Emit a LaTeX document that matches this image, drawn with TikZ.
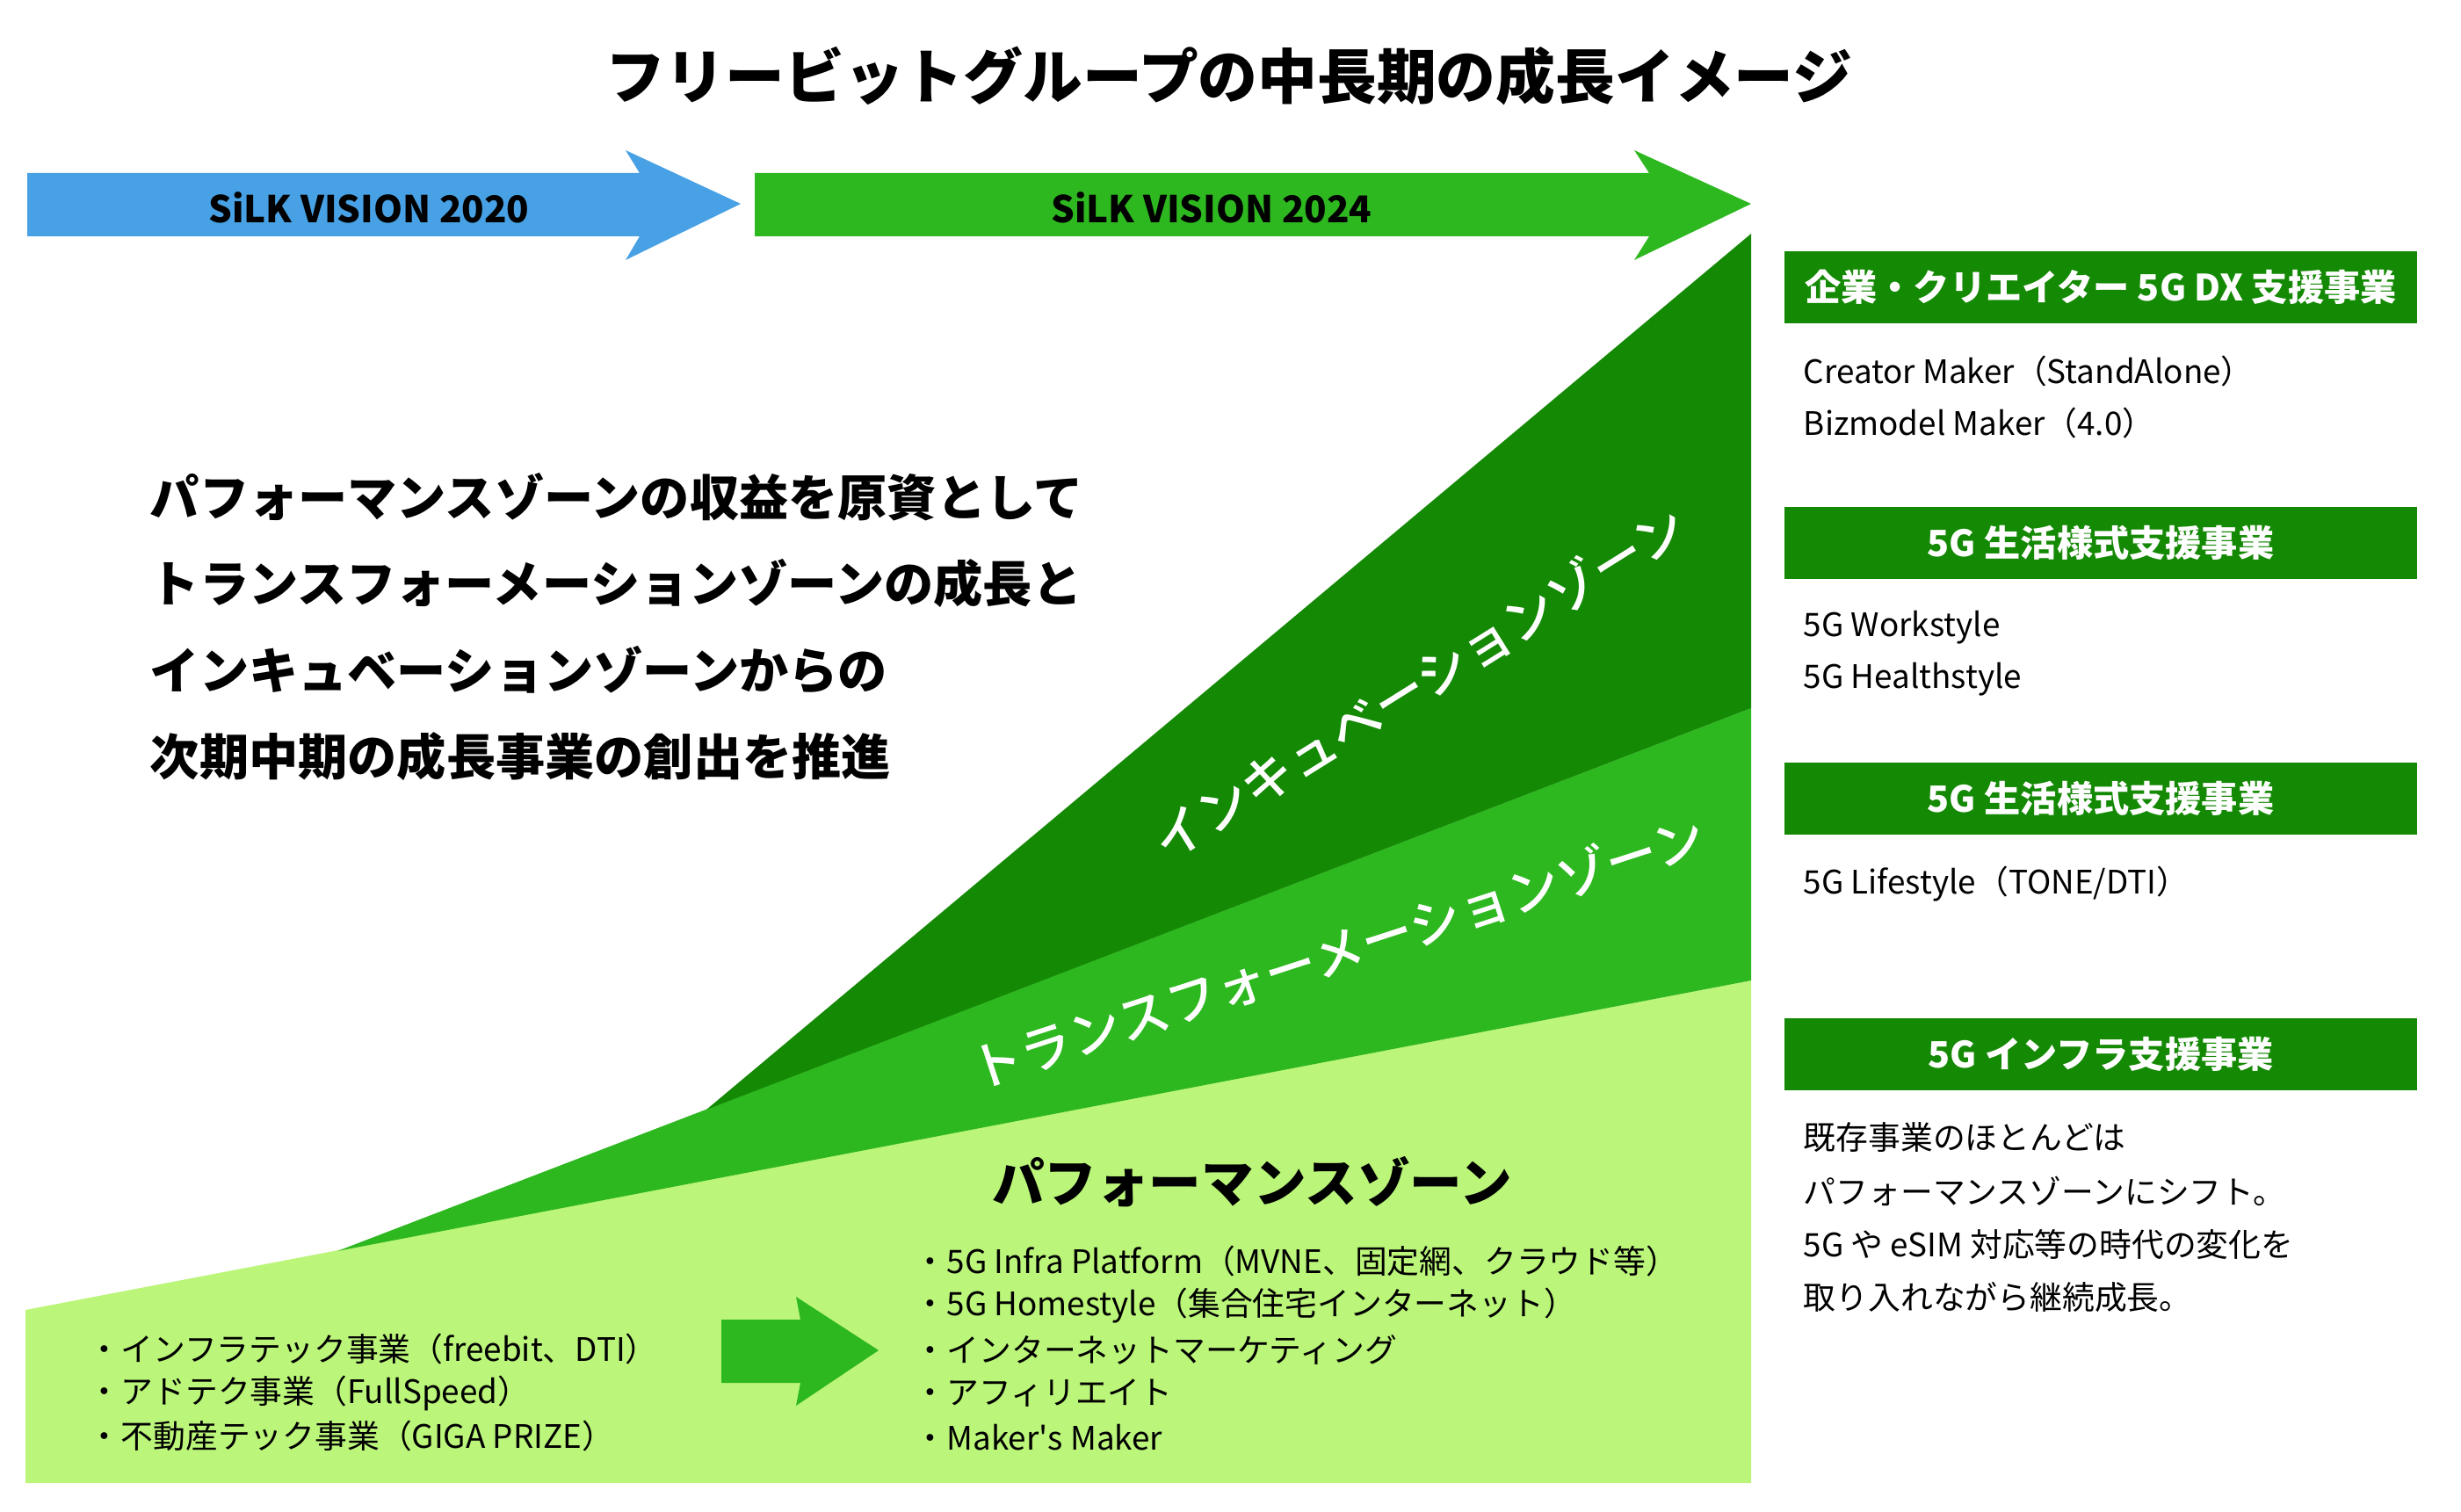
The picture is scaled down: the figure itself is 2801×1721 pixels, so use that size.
\documentclass[tikz,border=0pt]{standalone}
\usepackage{fontspec}
\setmainfont{Noto Sans CJK JP}
\newfontfamily\medfont{Noto Sans CJK JP Medium}
\definecolor{blueA}{HTML}{47A1E4}
\definecolor{greenM}{HTML}{2EB820}
\definecolor{greenD}{HTML}{148904}
\definecolor{greenL}{HTML}{BBF57A}
\begin{document}
\begin{tikzpicture}[x=0.25pt,y=-0.25pt,
  ttl/.style={font=\bfseries\fontsize{16.95}{20}\selectfont, inner sep=0},
  arrlbl/.style={font=\bfseries\fontsize{10.5}{12}\selectfont, inner sep=0},
  para/.style={font=\bfseries\fontsize{14.05}{16}\selectfont, anchor=west, inner sep=0},
  hdr/.style={fill=greenD, text=white, font=\bfseries\fontsize{10.3}{12}\selectfont, minimum width=180pt, minimum height=20.5pt, inner sep=0},
  bodytxt/.style={font=\fontsize{9.2}{11}\selectfont, anchor=west, inner sep=0},
  zone/.style={text=white, font=\medfont\fontsize{14.7}{17}\selectfont, inner sep=0},
  perf/.style={font=\bfseries\fontsize{14.9}{17}\selectfont, inner sep=0},
  item/.style={font=\fontsize{9.2}{11}\selectfont, anchor=west, inner sep=0}]
\useasboundingbox (0,0) rectangle (2801,1721);
\fill[white] (0,0) rectangle (2801,1721);

% zones
\fill[greenL] (29,1491) -- (1993,1116) -- (1993,1688) -- (29,1688) -- cycle;
\fill[greenM] (384,1424) -- (1993,806) -- (1993,1116) -- cycle;
\fill[greenD] (804,1263) -- (1993,266) -- (1993,806) -- cycle;

% title
\node[ttl] (title) at (1399,86) {フリービットグループの中長期の成長イメージ};

% top arrows
\fill[blueA] (31,197) -- (728,197) -- (712,171) -- (843,232) -- (712,296) -- (728,269) -- (31,269) -- cycle;
\node[arrlbl] (a1) at (420,236) {SiLK VISION 2020};
\fill[greenM] (859,197) -- (1877,197) -- (1860,171) -- (1993,232) -- (1860,296) -- (1877,269) -- (859,269) -- cycle;
\node[arrlbl] (a2) at (1379,236) {SiLK VISION 2024};

% paragraph
\node[para] (p1) at (170,566) {パフォーマンスゾーンの収益を原資として};
\node[para] (p2) at (170,664) {トランスフォーメーションゾーンの成長と};
\node[para] (p3) at (170,763) {インキュベーションゾーンからの};
\node[para] (p4) at (170,861) {次期中期の成長事業の創出を推進};

% zone labels
\node[zone, rotate=32] (z1) at (1615,777) {インキュベーションゾーン};
\node[zone, rotate=18] (z2) at (1522,1083) {トランスフォーメーションゾーン};
\node[perf] (z3) at (1425,1345) {パフォーマンスゾーン};

% bottom lists
\node[item] (l1) at (100,1536) {・インフラテック事業（freebit、DTI）};
\node[item] (l2) at (100,1586) {・アドテク事業（FullSpeed）};
\node[item] (l3) at (100,1634) {・不動産テック事業（GIGA PRIZE）};
\fill[greenM] (821,1502) -- (911,1502) -- (906,1476) -- (1000,1537) -- (906,1600) -- (911,1574) -- (821,1574) -- cycle;
\node[item] (r1) at (1040,1436) {・5G Infra Platform（MVNE、固定網、クラウド等）};
\node[item] (r2) at (1040,1486) {・5G Homestyle（集合住宅インターネット）};
\node[item] (r3) at (1040,1536) {・インターネットマーケティング};
\node[item] (r4) at (1040,1586) {・アフィリエイト};
\node[item] (r5) at (1040,1636) {・Maker\textquotesingle s Maker};

% right panel
\node[hdr] (h1) at (2391,327) {企業・クリエイター 5G DX 支援事業};
\node[bodytxt] (b11) at (2052,423) {Creator Maker（StandAlone）};
\node[bodytxt] (b12) at (2052,482) {Bizmodel Maker（4.0）};
\node[hdr] (h2) at (2391,618) {5G 生活様式支援事業};
\node[bodytxt] (b21) at (2052,714) {5G Workstyle};
\node[bodytxt] (b22) at (2052,773) {5G Healthstyle};
\node[hdr] (h3) at (2391,909) {5G 生活様式支援事業};
\node[bodytxt] (b31) at (2052,1006) {5G Lifestyle（TONE/DTI）};
\node[hdr] (h4) at (2391,1200) {5G インフラ支援事業};
\node[bodytxt] (b41) at (2052,1295) {既存事業のほとんどは};
\node[bodytxt] (b42) at (2052,1356) {パフォーマンスゾーンにシフト。};
\node[bodytxt] (b43) at (2052,1416) {5G や eSIM 対応等の時代の変化を};
\node[bodytxt] (b44) at (2052,1477) {取り入れながら継続成長。};
\end{tikzpicture}
\end{document}
